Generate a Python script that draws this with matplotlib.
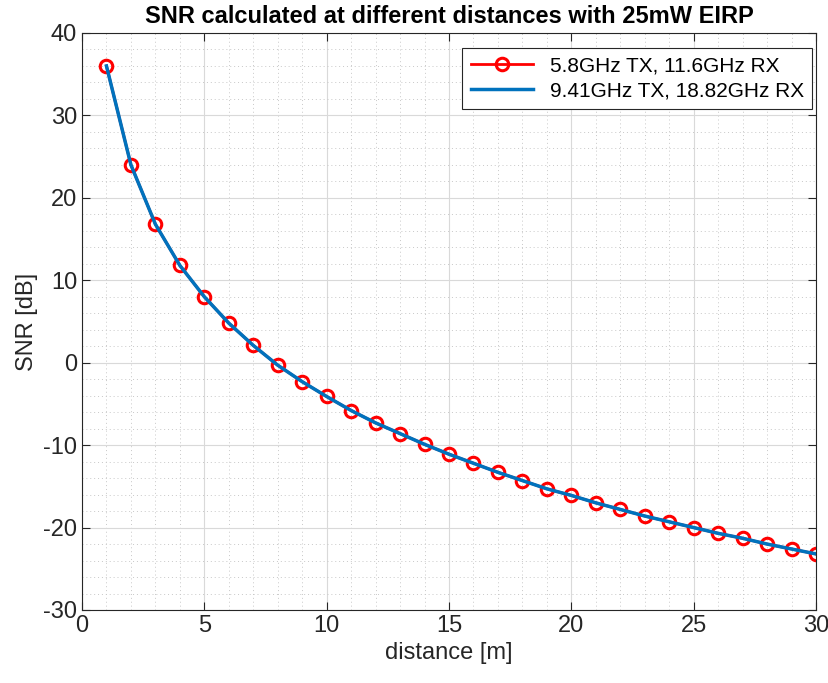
import matplotlib
matplotlib.use("Agg")
import matplotlib.pyplot as plt
from matplotlib.ticker import MultipleLocator

# distance [m]
distance = list(range(1, 31))

# SNR [dB] (both series overlap)
snr_58 = [36.0, 24.0, 16.8, 11.8, 8.0, 4.8, 2.1, -0.3, -2.3, -4.1,
          -5.8, -7.3, -8.6, -9.9, -11.1, -12.2, -13.3, -14.3, -15.3, -16.1,
          -17.0, -17.8, -18.6, -19.3, -20.0, -20.7, -21.3, -22.0, -22.6, -23.2]
snr_941 = [36.0, 24.0, 16.8, 11.8, 8.0, 4.8, 2.1, -0.3, -2.3, -4.1,
           -5.8, -7.3, -8.6, -9.9, -11.1, -12.2, -13.3, -14.3, -15.3, -16.1,
           -17.0, -17.8, -18.6, -19.3, -20.0, -20.7, -21.3, -22.0, -22.6, -23.2]

labels = ["5.8GHz TX, 11.6GHz RX", "9.41GHz TX, 18.82GHz RX"]

plt.rcParams['font.family'] = ['Liberation Sans', 'DejaVu Sans']
plt.rcParams['axes.unicode_minus'] = False

fig = plt.figure(figsize=(8.29, 6.83), dpi=100)
ax = fig.add_axes([0.0989, 0.1069, 0.8854, 0.8448])

ax.plot(distance, snr_58, color='red', lw=2, marker='o', ms=9,
        mfc='none', mew=2.2, label=labels[0])
ax.plot(distance, snr_941, color='#0072BD', lw=2.5, label=labels[1])

ax.set_xlim(0, 30)
ax.set_ylim(-30, 40)
ax.xaxis.set_major_locator(MultipleLocator(5))
ax.yaxis.set_major_locator(MultipleLocator(10))
ax.xaxis.set_minor_locator(MultipleLocator(1))
ax.yaxis.set_minor_locator(MultipleLocator(2))
ax.grid(True, which='major', color='#d9d9d9', lw=0.8)
ax.grid(True, which='minor', color='#c8c8c8', lw=0.7, ls=(0, (1, 3)))
ax.tick_params(which='both', direction='in', top=True, right=True,
               labelsize=17, colors='#262626')
ax.tick_params(which='minor', length=0)
ax.tick_params(which='major', length=6)
for s in ax.spines.values():
    s.set_color('#262626')
    s.set_linewidth(0.8)

ax.set_xlabel('distance [m]', fontsize=17, color='#262626')
ax.set_ylabel('SNR [dB]', fontsize=17, color='#262626')
ax.set_title('SNR calculated at different distances with 25mW EIRP',
             fontsize=17, fontweight='bold',
             family=['Liberation Sans Narrow', 'Liberation Sans'], pad=7)

leg = ax.legend(loc='upper right', fontsize=15, fancybox=False, framealpha=1,
                edgecolor='#262626', handlelength=3, borderpad=0.4,
                labelspacing=0.3, borderaxespad=0,
                bbox_to_anchor=(0.995, 0.974))
leg.get_frame().set_linewidth(0.8)

fig.savefig('out.png', dpi=100)
